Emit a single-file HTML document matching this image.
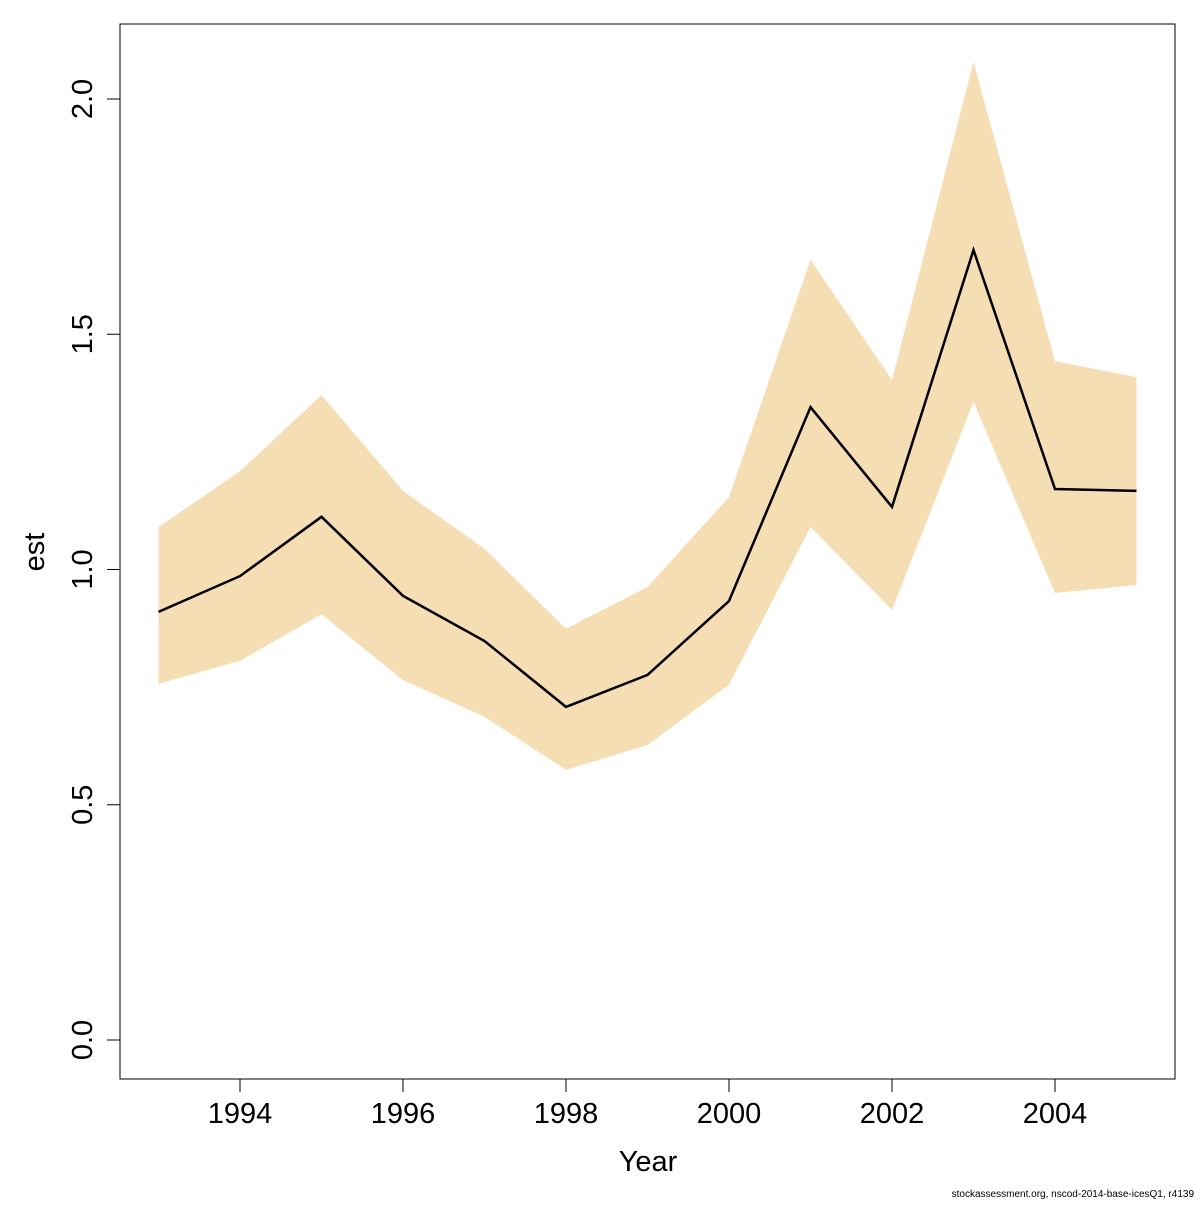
<!DOCTYPE html>
<html><head><meta charset="utf-8"><style>
body{margin:0;background:#fff}
svg text{font-family:"Liberation Sans","DejaVu Sans",sans-serif;fill:#000}
</style></head><body>
<svg id="chart" width="1200" height="1200" xmlns="http://www.w3.org/2000/svg">
<rect x="120" y="24" width="1055" height="1055" fill="none" stroke="#000" stroke-width="1"/>
<g id="band"></g>
<g id="line"></g>
<g id="xaxis"></g>
<g id="yaxis"></g>
<text x="648" y="1171" font-size="29" text-anchor="middle">Year</text>
<text transform="translate(44,552) rotate(-90)" font-size="29" text-anchor="middle">est</text>
<text x="1194" y="1197" font-size="10" text-anchor="end">stockassessment.org, nscod-2014-base-icesQ1, r4139</text>
</svg>
<script>
const years=[1993,1994,1995,1996,1997,1998,1999,2000,2001,2002,2003,2004,2005];
const est=[0.910,0.986,1.112,0.944,0.848,0.708,0.776,0.933,1.345,1.133,1.679,1.171,1.167];
const upper=[1.090,1.209,1.371,1.167,1.044,0.874,0.963,1.154,1.658,1.403,2.079,1.443,1.409];
const lower=[0.757,0.806,0.905,0.765,0.687,0.574,0.627,0.755,1.090,0.914,1.356,0.950,0.967];
const xTicks=[1994,1996,1998,2000,2002,2004];
const yTicks=[0,0.5,1.0,1.5,2.0];
const yTickLabels=["0.0","0.5","1.0","1.5","2.0"];
const NS="http://www.w3.org/2000/svg";
const xs=v=>240+(v-1994)*81.5;
const ys=v=>1040-v*470.5;
function mk(t,a){const e=document.createElementNS(NS,t);for(const k in a)e.setAttribute(k,a[k]);return e;}
const band=document.getElementById('band');
let pts=years.map((y,i)=>xs(y)+','+ys(upper[i]));
pts=pts.concat(years.slice().reverse().map((y,j)=>{const i=years.length-1-j;return xs(y)+','+ys(lower[i]);}));
const poly=mk('polygon',{points:pts.join(' '),fill:'#f5deb3',stroke:'none'});


band.appendChild(poly);
const line=mk('polyline',{points:years.map((y,i)=>xs(y)+','+ys(est[i])).join(' '),fill:'none',stroke:'#000','stroke-width':2.5});


document.getElementById('line').appendChild(line);
const xa=document.getElementById('xaxis');
xTicks.forEach(t=>{
 const l=mk('line',{x1:xs(t),x2:xs(t),y1:1079,y2:1092,stroke:'#000'});
 
 
 xa.appendChild(l);
 const tx=mk('text',{x:xs(t),y:1123,'font-size':29,'text-anchor':'middle'});
 
 
 tx.textContent=t;xa.appendChild(tx);
});
const ya=document.getElementById('yaxis');
yTicks.forEach((t,i)=>{
 const l=mk('line',{x1:107,x2:120,y1:ys(t),y2:ys(t),stroke:'#000'});
 
 
 ya.appendChild(l);
 const tx=mk('text',{transform:`translate(92,${ys(t)}) rotate(-90)`,'font-size':29,'text-anchor':'middle'});
 
 
 tx.textContent=yTickLabels[i];ya.appendChild(tx);
});
</script>
</body></html>
